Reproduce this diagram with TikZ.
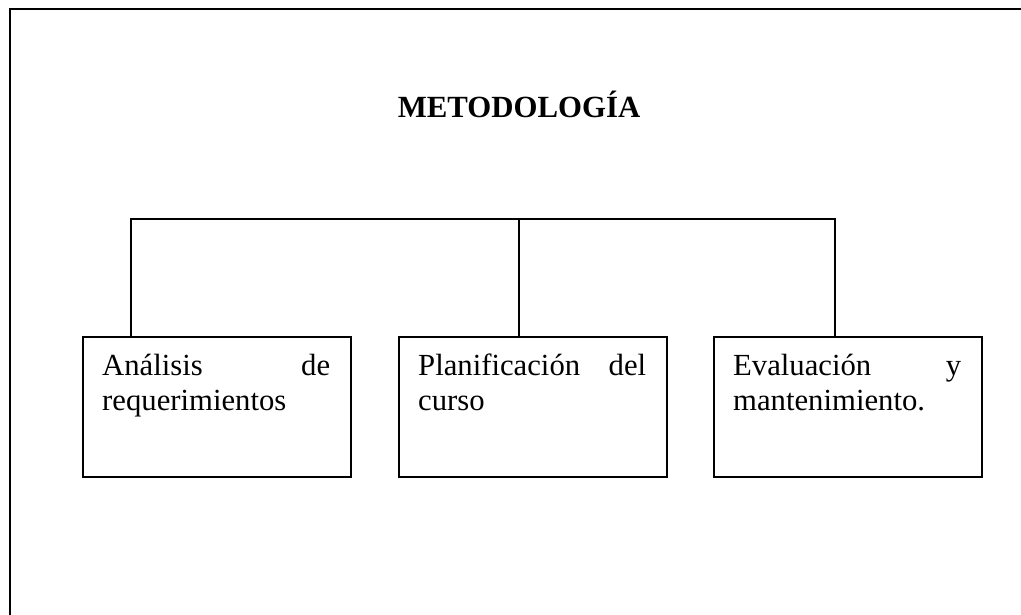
\documentclass[tikz,border=0pt]{standalone}
\usepackage{fontspec}
\setmainfont{Liberation Serif}
\begin{document}
\begin{tikzpicture}[x=1pt,y=-1pt,
  frame/.style={line width=2pt},
  stagebox/.style={draw,line width=2pt,minimum width=268pt,minimum height=140pt,inner sep=0pt,anchor=north west},
  stagetext/.style={text width=228pt,align=left,inner sep=0pt,anchor=base west,font=\fontsize{30.7}{35.6}\selectfont},
  link/.style={line width=2pt}]
\useasboundingbox (0,0) rectangle (1021,614);
\draw[frame] (1025,9) -- (9.5,9) -- (9.5,620);
\node[font=\bfseries\fontsize{30.8}{36}\selectfont,anchor=base,inner sep=0pt] (title) at (519,117.3) {METODOLOGÍA};
\node[stagebox] (b1) at (82,336) {};
\node[stagebox] (b2) at (398,336) {};
\node[stagebox] (b3) at (713,336) {};
\node[stagetext] (t1) at (102,375) {Análisis\hfill de\\requerimientos};
\node[stagetext] (t2) at (418,375) {Planificación\hfill del\\curso};
\node[stagetext] (t3) at (733,375) {Evaluación\hfill y\\mantenimiento.};
\coordinate (j1) at (131,219);
\coordinate (j2) at (519,219);
\coordinate (j3) at (835,219);
\draw[link] (j1 |- b1.north) -- (j1) -- (j3) -- (j3 |- b3.north);
\draw[link] (j2) -- (j2 |- b2.north);
\end{tikzpicture}
\end{document}
